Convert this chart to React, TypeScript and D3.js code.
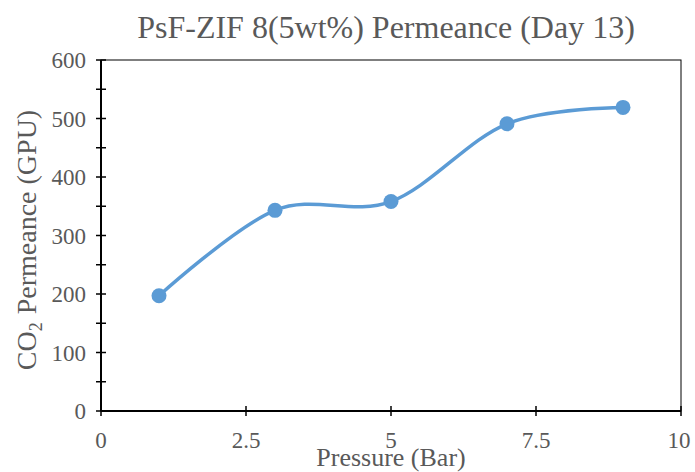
import * as d3 from 'd3';

const pressure = [1, 3, 5, 7, 9];
const permeance = [197, 343, 358, 491, 519];
const xTicks = [0, 2.5, 5, 7.5, 10];
const yTicks = [0, 100, 200, 300, 400, 500, 600];
const yMinorTicks = [50, 150, 250, 350, 450, 550];

export default function App() {
  const width = 695;
  const height = 472;
  const left = 101;
  const right = 681;
  const top = 60;
  const bottom = 411;

  const x = d3.scaleLinear().domain([0, 10]).range([left, right]);
  const y = d3.scaleLinear().domain([0, 600]).range([bottom, top]);

  const points = pressure.map((p, i) => [x(p), y(permeance[i])] as [number, number]);
  const line = d3.line().curve(d3.curveCatmullRom.alpha(0));

  const grey = '#595959';
  const font = '"Liberation Serif", "Times New Roman", serif';

  return (
    <svg
      width={width}
      height={height}
      style={{ position: 'absolute', left: 0, top: 0, background: '#fff', fontFamily: font }}
    >
      {/* frame */}
      <rect x={left} y={top} width={right - left} height={bottom - top} fill="none" stroke="#000" strokeWidth={1} />

      {/* axes */}
      <line x1={left} x2={left} y1={top} y2={bottom} stroke="#000" strokeWidth={2} />
      <line x1={left} x2={right} y1={bottom} y2={bottom} stroke="#000" strokeWidth={2} />

      {yTicks.map((t) => (
        <g key={'y' + t}>
          <line x1={left - 5} x2={left + 5} y1={y(t)} y2={y(t)} stroke="#000" strokeWidth={1.5} />
          <text x={86} y={y(t)} dy="0.35em" textAnchor="end" fontSize={23} fill={grey}>
            {t}
          </text>
        </g>
      ))}
      {yMinorTicks.map((t) => (
        <line key={'m' + t} x1={left - 5} x2={left + 5} y1={y(t)} y2={y(t)} stroke="#000" strokeWidth={1.5} />
      ))}

      {xTicks.map((t) => (
        <g key={'x' + t}>
          <line x1={x(t)} x2={x(t)} y1={bottom - 5} y2={bottom + 5} stroke="#000" strokeWidth={1.5} />
          <text x={x(t) - (t === 10 ? 2 : 0)} y={448} textAnchor="middle" fontSize={23} fill={grey}>
            {t}
          </text>
        </g>
      ))}

      <path d={line(points) || ''} fill="none" stroke="#5B9BD5" strokeWidth={3.5} />
      {points.map(([px, py], i) => (
        <circle key={i} cx={px} cy={py} r={7.5} fill="#5B9BD5" />
      ))}

      <text x={386} y={38} textAnchor="middle" fontSize={32} fill={grey}>
        PsF-ZIF 8(5wt%) Permeance (Day 13)
      </text>

      <text x={391} y={466} textAnchor="middle" fontSize={26} fill={grey}>
        Pressure (Bar)
      </text>

      <text
        transform={`translate(36, 240) rotate(-90)`}
        textAnchor="middle"
        fontSize={28}
        fill={grey}
      >
        CO<tspan fontSize={18} dy={6}>2</tspan>
        <tspan dy={-6} dx={8}>Permeance (GPU)</tspan>
      </text>
    </svg>
  );
}
